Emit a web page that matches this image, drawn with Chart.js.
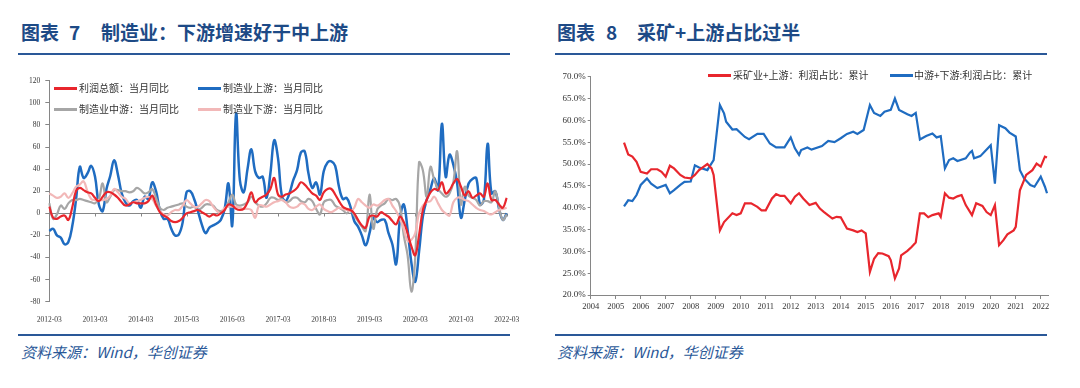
<!DOCTYPE html>
<html lang="zh-CN">
<head>
<meta charset="utf-8">
<title>制造业利润</title>
<script src="https://cdn.jsdelivr.net/npm/chart.js@4.4.1/dist/chart.umd.min.js"></script>
<style>
  html, body { margin: 0; padding: 0; background: #fff; }
  body { width: 1080px; height: 388px; position: relative; overflow: hidden; font-family: "Noto Sans CJK SC", sans-serif; }
  .title { position: absolute; top: 19px; font-size: 19px; font-weight: 700; color: #1d4a86; line-height: 26px; white-space: nowrap; }
  .rule { position: absolute; height: 2px; background: #2a5898; }
  .source { position: absolute; top: 341px; font-size: 15px; font-style: italic; color: #2a5898; line-height: 22px; white-space: nowrap; }
  .chart { position: absolute; top: 60px; width: 540px; height: 270px; }
  .leg { position: absolute; font-size: 10px; color: #333; line-height: 14px; white-space: nowrap; }
  .leg i { position: absolute; left: 0; top: 6px; width: 23px; height: 3px; }
</style>
</head>
<body>
<div class="title" style="left:21px">图表</div>
<div class="title" style="left:69px">7</div>
<div class="title" style="left:101px">制造业：下游增速好于中上游</div>
<div class="rule" style="left:18px; width:492px; top:53px"></div>
<div class="title" style="left:557px">图表</div>
<div class="title" style="left:606px">8</div>
<div class="title" style="left:637px">采矿+上游占比过半</div>
<div class="rule" style="left:555px; width:492px; top:53px"></div>

<canvas id="left" class="chart" width="540" height="270" style="left:0"></canvas>
<canvas id="right" class="chart" width="540" height="270" style="left:540px"></canvas>

<div class="leg" style="left:54px; top:81px"><i style="background:#e8262d"></i><span style="margin-left:25px">利润总额：当月同比</span></div>
<div class="leg" style="left:198px; top:81px"><i style="background:#1f6cc1"></i><span style="margin-left:25px">制造业上游：当月同比</span></div>
<div class="leg" style="left:54px; top:102px"><i style="background:#a6a6a6"></i><span style="margin-left:25px">制造业中游：当月同比</span></div>
<div class="leg" style="left:198px; top:102px"><i style="background:#f2b8b8"></i><span style="margin-left:25px">制造业下游：当月同比</span></div>

<div class="leg" style="left:708px; top:68px"><i style="background:#e8262d"></i><span style="margin-left:25px">采矿业+上游：利润占比：累计</span></div>
<div class="leg" style="left:890px; top:68px"><i style="background:#1f6cc1"></i><span style="margin-left:24px">中游+下游:利润占比：累计</span></div>

<div class="rule" style="left:18px; width:492px; top:334px"></div>
<div class="source" style="left:21px">资料来源：Wind，华创证券</div>
<div class="rule" style="left:555px; width:492px; top:334px"></div>
<div class="source" style="left:557px">资料来源：Wind，华创证券</div>

<script>
// 图表7：当月同比（%），2012-03 至 2022-03，每行 12 个月（3月起）
const firstMonth = '2012-03';
const lastMonth = '2022-03';

const profitTotal = [
    6, -4, -5, -3, -2, -6, 5, 20, 23, 21, 19, 18,
    14, 11, 15, 19, 19, 17, 14, 10, 7, 8, 10, 9,
    9, 9, 11, 16, 8, 1, -2, -4, -7, -8, -7, -4,
    0, 1, 2, 3, 1, -1, -3, -1, -2, 0, 3, 8,
    7, 4, 3, 4, 10, 19, 10, 13, 15, 17, 22, 32,
    17, 15, 17, 18, 20, 23, 28, 26, 22, 18, 16, 12,
    19, 22, 22, 17, 11, 6, 4, 3, 0, -6, -11, -13,
    -3, -2, -3, 1, -1, -3, -7, -10, -3, -8, -18, -30,
    -38, -20, 3, 12, 19, 22, 21, 28, 18, 21, 27, 31,
    24, 16, 20, 14, 16, 18, 15, 27, 12, 12, 8, 5,
    14
];
const upstream = [
    -16, -14, -20, -22, -28, -26, -12, 12, 42, 32, 36, 43,
    33, 8, 2, 22, 34, 48, 35, 18, 10, 7, 11, 12,
    5, 15, 13, 28, 20, 3, -5, -5, -14, -20, -19, -8,
    19, 20, 13, 2, -10, -18, -13, -11, -9, -6, 4, 27,
    -11, 90, 30, 19, 40, 58, 38, 32, 33, 14, 36, 66,
    50, 16, 11, 18, 30, 39, 55, 56, 36, 23, 28, 17,
    38, 46, 47, 43, 24, 13, 14, 6, -7, -12, -20, -29,
    -18, -4, -8, -6, -6, -18, -28, -46, -5, 8, -15, -45,
    -62, -35, -3, 12, 22, 32, 21, 81, 33, 53, 44, 27,
    -4, 12, 27, 31, 32, 8, 12, 63, 18, 20, 4, -6,
    0
];
const midstream = [
    9, -5, -1, 7, 4, 9, 12, 12, 13, 12, 11, 10,
    9, 13, 27, 10, 15, 21, 21, 20, 20, 19, 20, 23,
    21, 18, 19, 22, 14, 5, 3, 5, 6, 7, 8, 9,
    6, 5, 6, 3, 5, 8, 8, 7, 3, 2, 4, 10,
    17, 8, 7, 8, 10, 15, 10, 7, 6, 9, 14, 14,
    12, 13, 10, 11, 14, 14, 11, 10, 13, 11, 4, -1,
    10, 12, 12, 7, 5, 3, 0, 3, -2, -7, -12, -16,
    17, -14, 3, 7, 9, 13, 12, 13, 6, -20, -38, -71,
    -40, 46, 39, 15, 42, 30, 22, 18, 15, 18, 28, 56,
    8, 24, 16, 14, 12, 7, 11, 11, 10, 20, 5, -6,
    -1
];
const downstream = [
    18, 16, 14, 15, 18, 14, 18, 24, 26, 29, 20, 13,
    12, 12, 12, 13, 16, 22, 19, 15, 13, 9, 10, 11,
    12, 14, 15, 13, 7, 2, -1, -2, 1, 3, 3, 7,
    12, 9, 6, 6, 9, 12, 11, 6, 2, 0, 5, 6,
    6, 6, 5, 4, 4, 3, -4, 7, 7, 6, 8, 10,
    11, 12, 10, 6, 5, 6, 9, 8, 4, 3, 6, 8,
    4, 2, 1, 3, 5, 4, 3, 2, 5, 13, 10, 7,
    5, 8, 7, 9, 12, 13, 7, 2, -5, -14, -25, -24,
    -18, 0, 7, 10, 11, 15, 9, 3, 0, -2, 10, 14,
    14, 12, 11, 8, 5, 3, 2, 0, -1, 1, 3, 4,
    5
];

// 图表8：利润占比累计（%）
const upShareMonths = [
    '2005-04', '2005-06', '2005-08', '2005-10', '2005-12',
    '2006-03', '2006-05', '2006-08', '2006-10', '2006-12',
    '2007-02', '2007-04', '2007-07', '2007-09', '2007-12',
    '2008-02', '2008-04', '2008-08', '2008-10', '2008-11',
    '2009-02', '2009-04', '2009-08', '2009-10', '2009-12',
    '2010-02', '2010-05', '2010-08', '2010-10', '2010-12',
    '2011-03', '2011-05', '2011-07', '2011-09', '2011-12',
    '2012-02', '2012-04', '2012-06', '2012-09', '2012-12',
    '2013-02', '2013-04', '2013-08', '2013-10', '2013-12',
    '2014-03', '2014-06', '2014-08', '2014-10', '2014-12',
    '2015-02', '2015-04', '2015-06', '2015-08', '2015-11', '2015-12',
    '2016-02', '2016-04', '2016-05', '2016-08', '2016-10', '2016-12',
    '2017-02', '2017-04', '2017-06', '2017-08', '2017-11', '2017-12',
    '2018-02', '2018-04', '2018-06', '2018-08', '2018-10', '2018-12',
    '2019-03', '2019-05', '2019-08', '2019-10', '2019-12',
    '2020-02', '2020-04', '2020-06', '2020-08', '2020-11', '2020-12',
    '2021-02', '2021-04', '2021-05', '2021-08', '2021-10', '2021-12',
    '2022-02', '2022-03'
];
const upShare = [
    54.9, 52.2, 51.7, 50.5, 48.2,
    47.8, 48.8, 48.8, 48.2, 47.1,
    49.6, 49.0, 47.5, 46.9, 46.7,
    47.5, 48.6, 50.0, 49.0, 47.5,
    34.8, 36.7, 38.7, 38.3, 38.7,
    41.0, 41.0, 40.2, 39.4, 39.4,
    42.1, 43.1, 42.7, 42.7, 41.0,
    42.5, 43.3, 42.1, 40.6, 41.1,
    39.8, 39.0, 37.5, 37.9, 37.8,
    35.2, 34.8, 34.4, 34.8, 34.1,
    25.3, 28.3, 29.6, 29.5, 28.9, 28.0,
    23.8, 26.1, 29.1, 30.1, 31.0, 32.0,
    38.7, 38.7, 37.8, 38.3, 38.7, 37.9,
    43.3, 42.3, 42.1, 42.6, 42.9, 40.6,
    38.3, 41.0, 40.4, 39.0, 38.3,
    40.6, 31.4, 32.5, 33.9, 34.8, 35.6,
    44.0, 46.3, 47.5, 48.6, 50.1, 49.4,
    51.7, 51.5
];
const downShareMonths = [
    '2005-04', '2005-06', '2005-08', '2005-10', '2005-12',
    '2006-03', '2006-05', '2006-08', '2006-12',
    '2007-02', '2007-04', '2007-07', '2007-09', '2007-12',
    '2008-02', '2008-04', '2008-08', '2008-09', '2008-11',
    '2009-02', '2009-04', '2009-05', '2009-08', '2009-10',
    '2010-02', '2010-04', '2010-08', '2010-11',
    '2011-02', '2011-05', '2011-09', '2011-12',
    '2012-02', '2012-04', '2012-05', '2012-08', '2012-10',
    '2013-03', '2013-06', '2013-09', '2013-12',
    '2014-03', '2014-06', '2014-08', '2014-11',
    '2015-02', '2015-04', '2015-07', '2015-09', '2015-12',
    '2016-02', '2016-04', '2016-08', '2016-10', '2016-12',
    '2017-02', '2017-05', '2017-08', '2017-10', '2017-12',
    '2018-02', '2018-04', '2018-06', '2018-08', '2018-12',
    '2019-02', '2019-03', '2019-04', '2019-07', '2019-09', '2019-12',
    '2020-02', '2020-04', '2020-07', '2020-09', '2020-12',
    '2021-02', '2021-04', '2021-07', '2021-09', '2021-12',
    '2022-02', '2022-03'
];
const downShare = [
    40.3, 41.7, 41.5, 42.9, 45.2,
    46.7, 45.5, 44.5, 45.2,
    43.3, 44.0, 45.2, 45.9, 46.0,
    49.7, 49.2, 48.6, 49.4, 50.9,
    63.5, 61.6, 59.7, 57.9, 58.0,
    56.2, 55.7, 56.9, 56.9,
    54.7, 53.8, 53.8, 56.1,
    53.6, 52.1, 53.2, 53.8, 53.3,
    54.1, 55.3, 55.0, 55.9,
    56.9, 57.4, 56.9, 57.8,
    63.5, 61.7, 61.0, 62.0, 62.4,
    65.0, 62.4, 61.4, 61.0, 61.7,
    55.6, 56.4, 57.0, 56.1, 56.4,
    49.0, 50.9, 51.3, 50.7, 51.3,
    52.6, 53.0, 51.3, 51.8, 52.8, 54.3,
    45.5, 58.9, 58.2, 57.2, 56.3,
    48.6, 46.7, 45.2, 44.8, 47.1,
    44.8, 43.3
];

// 月份标签
const months = [];
let [yy, mm] = firstMonth.split('-').map(Number);
while (true) {
    const s = yy + '-' + String(mm).padStart(2, '0');
    months.push(s);
    if (s === lastMonth) break;
    mm++;
    if (mm > 12) { mm = 1; yy++; }
}

// 月末对应的年份小数
function toYear(s) {
    const [y, m] = s.split('-').map(Number);
    return y + m / 12;
}

const AXIS = '#868686';
const RED = '#e8262d';
const BLUE = '#1f6cc1';
Chart.defaults.font.family = '"Liberation Serif", "Times New Roman", serif';
Chart.defaults.color = '#333';

// 零轴和年份刻度
const zeroLine = {
    id: 'zeroLine',
    beforeDatasetsDraw(chart) {
        const { ctx, chartArea, scales: { x, y } } = chart;
        const y0 = Math.round(y.getPixelForValue(0)) + 0.5;
        ctx.save();
        ctx.strokeStyle = AXIS;
        ctx.lineWidth = 1;
        ctx.beginPath();
        ctx.moveTo(chartArea.left, y0);
        ctx.lineTo(chartArea.right, y0);
        months.forEach((m, i) => {
            if (i % 12 === 0) {
                const px = Math.round(x.getPixelForValue(i)) + 0.5;
                ctx.moveTo(px, y0);
                ctx.lineTo(px, y0 + 3);
            }
        });
        ctx.stroke();
        ctx.restore();
    }
};

new Chart(document.getElementById('left'), {
    type: 'line',
    data: {
        labels: months,
        datasets: [
            { label: '利润总额：当月同比', data: profitTotal, borderColor: RED, borderWidth: 2.2, order: 0 },
            { label: '制造业下游：当月同比', data: downstream, borderColor: '#f2b8b8', borderWidth: 2.2, order: 1 },
            { label: '制造业中游：当月同比', data: midstream, borderColor: '#a6a6a6', borderWidth: 2.2, order: 2 },
            { label: '制造业上游：当月同比', data: upstream, borderColor: BLUE, borderWidth: 2.5, order: 3 }
        ]
    },
    options: {
        responsive: false,
        animation: false,
        layout: { padding: { top: 20.7, right: 33.3, bottom: 8.3, left: 0 } },
        elements: { point: { radius: 0 }, line: { tension: 0.4 } },
        plugins: { legend: { display: false }, tooltip: { enabled: false } },
        scales: {
            x: {
                grid: { display: false },
                border: { display: false },
                ticks: {
                    autoSkip: false, maxRotation: 0, padding: 6,
                    font: { size: 7.5 },
                    callback: (v, i) => (i % 12 === 0 ? months[i] : '')
                },
                afterFit: s => { s.height = 20; }
            },
            y: {
                min: -80, max: 120,
                ticks: { stepSize: 20, padding: 5, font: { size: 7.5 } },
                grid: { drawOnChartArea: false, tickLength: 4, color: AXIS },
                border: { color: AXIS },
                afterFit: s => { s.width = 49.3; }
            }
        }
    },
    plugins: [zeroLine]
});

new Chart(document.getElementById('right'), {
    type: 'line',
    data: {
        datasets: [
            { label: '采矿业+上游：利润占比：累计', data: upShareMonths.map((m, i) => ({ x: toYear(m), y: upShare[i] })), borderColor: RED, borderWidth: 2.2 },
            { label: '中游+下游:利润占比：累计', data: downShareMonths.map((m, i) => ({ x: toYear(m), y: downShare[i] })), borderColor: BLUE, borderWidth: 2.2 }
        ]
    },
    options: {
        responsive: false,
        animation: false,
        layout: { padding: { top: 16.7, right: 32, bottom: 15, left: 0 } },
        elements: { point: { radius: 0 }, line: { tension: 0 } },
        plugins: { legend: { display: false }, tooltip: { enabled: false } },
        scales: {
            x: {
                type: 'linear', min: 2004, max: 2022.29,
                ticks: { stepSize: 1, includeBounds: false, padding: 3, font: { size: 8.5 }, callback: v => String(Math.round(v)) },
                grid: { drawOnChartArea: false, tickLength: 4, color: AXIS },
                border: { color: AXIS },
                afterFit: s => { s.height = 20; }
            },
            y: {
                min: 20, max: 70,
                ticks: { stepSize: 5, padding: 2, font: { size: 9 }, callback: v => v.toFixed(1) + '%' },
                grid: { drawOnChartArea: false, tickLength: 3, color: AXIS },
                border: { color: AXIS },
                afterFit: s => { s.width = 50.7; }
            }
        }
    }
});
</script>
</body>
</html>
